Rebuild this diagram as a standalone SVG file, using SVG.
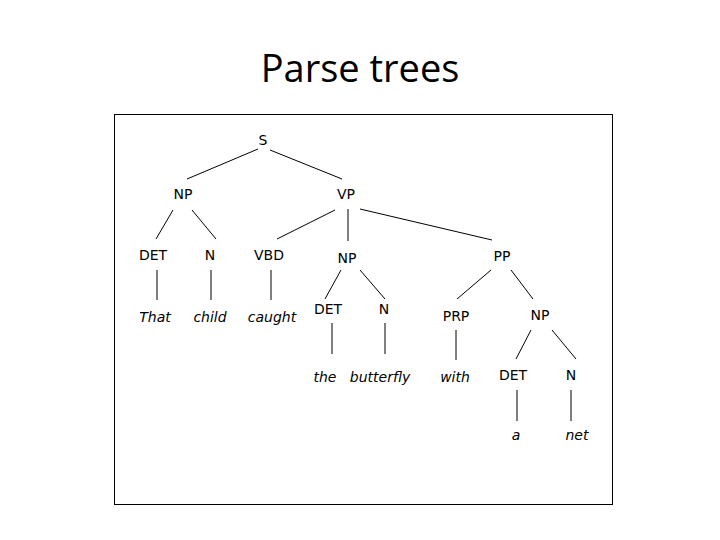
<svg xmlns="http://www.w3.org/2000/svg" width="720" height="540" viewBox="0 0 720 540">
<style>
.t{font-family:"DejaVu Sans","Liberation Sans",sans-serif;font-size:14px;text-anchor:middle;fill:#000}
.w{font-style:italic}
.title{font-family:"Open Sans","Liberation Sans",sans-serif;font-size:38px;text-anchor:middle}
#edges line{stroke:#000;stroke-width:1}
</style>
<rect width="720" height="540" fill="#fff"/>
<text class="title" x="360" y="82">Parse trees</text>
<rect x="114.5" y="114.5" width="498" height="390" fill="none" stroke="#000" stroke-width="1"/>
<g id="edges">
<line x1="258" y1="149" x2="187" y2="179"/>
<line x1="270" y1="150" x2="342" y2="179"/>
<line x1="173" y1="210" x2="156" y2="239"/>
<line x1="192" y1="210" x2="216" y2="239"/>
<line x1="335" y1="210" x2="277" y2="239"/>
<line x1="348" y1="209" x2="348" y2="241"/>
<line x1="360" y1="209" x2="492" y2="240"/>
<line x1="157" y1="270" x2="157" y2="300"/>
<line x1="211" y1="270" x2="211" y2="300"/>
<line x1="271" y1="270" x2="271" y2="300"/>
<line x1="341" y1="270" x2="325" y2="299"/>
<line x1="360" y1="270" x2="385" y2="299"/>
<line x1="332" y1="323" x2="332" y2="354"/>
<line x1="385" y1="323" x2="385" y2="354"/>
<line x1="491" y1="270" x2="457" y2="299"/>
<line x1="511" y1="270" x2="533" y2="299"/>
<line x1="456" y1="330" x2="456" y2="360"/>
<line x1="531" y1="330" x2="516" y2="359"/>
<line x1="552" y1="330" x2="576" y2="359"/>
<line x1="517" y1="390" x2="517" y2="421"/>
<line x1="571" y1="390" x2="571" y2="421"/>
</g>
<g id="S"><text class="t" x="263" y="145">S</text></g>
<g id="NP1"><text class="t" x="183" y="199">NP</text></g>
<g id="VP"><text class="t" x="346" y="199">VP</text></g>
<g id="DET1"><text class="t" x="153" y="260">DET</text></g>
<g id="N1"><text class="t" x="210" y="260">N</text></g>
<g id="VBD"><text class="t" x="269" y="260">VBD</text></g>
<g id="NP2"><text class="t" x="347" y="263">NP</text></g>
<g id="PP"><text class="t" x="502" y="261">PP</text></g>
<g id="That"><text class="t w" x="155" y="322">That</text></g>
<g id="child"><text class="t w" x="210" y="322">child</text></g>
<g id="caught"><text class="t w" x="272" y="322">caught</text></g>
<g id="DET2"><text class="t" x="328" y="314">DET</text></g>
<g id="N2"><text class="t" x="384" y="314">N</text></g>
<g id="PRP"><text class="t" x="456" y="321">PRP</text></g>
<g id="NP3"><text class="t" x="540" y="320">NP</text></g>
<g id="the"><text class="t w" x="325" y="382">the</text></g>
<g id="butterfly"><text class="t w" x="380" y="382">butterfly</text></g>
<g id="with"><text class="t w" x="455" y="382">with</text></g>
<g id="DET3"><text class="t" x="513" y="380">DET</text></g>
<g id="N3"><text class="t" x="571" y="380">N</text></g>
<g id="a"><text class="t w" x="516" y="440">a</text></g>
<g id="net"><text class="t w" x="577" y="440">net</text></g>
</svg>
